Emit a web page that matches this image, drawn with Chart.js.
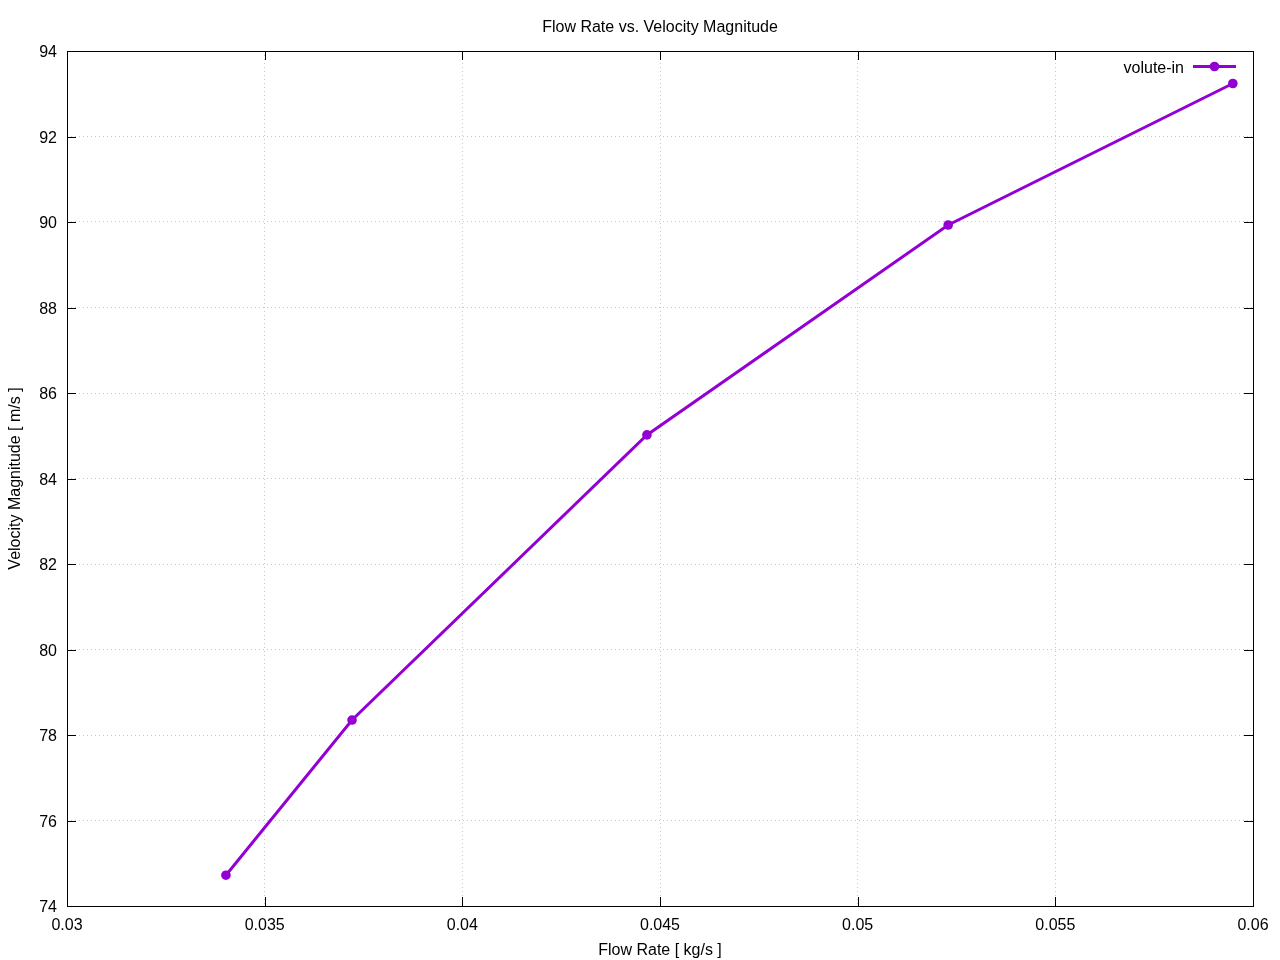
<!DOCTYPE html>
<html>
<head>
<meta charset="utf-8">
<script src="https://cdn.jsdelivr.net/npm/chart.js@4/dist/chart.umd.min.js"></script>
<style>
html,body{margin:0;padding:0;background:#fff;}
#wrap{width:1280px;height:960px;position:relative;}
</style>
</head>
<body>
<div id="wrap"><canvas id="c" width="1280" height="960"></canvas></div>
<script>
const flowRate = [0.03402, 0.03721, 0.04467, 0.05229, 0.05949];
const velocity = [74.72, 78.35, 85.02, 89.93, 93.24];
const seriesName = 'volute-in';
const chartTitle = 'Flow Rate vs. Velocity Magnitude';
const xLabel = 'Flow Rate [ kg/s ]';
const yLabel = 'Velocity Magnitude [ m/s ]';
const xTicks = [0.03, 0.035, 0.04, 0.045, 0.05, 0.055, 0.06];
const yTicks = [74, 76, 78, 80, 82, 84, 86, 88, 90, 92, 94];

const FONT = '"Liberation Sans", Arial, sans-serif';
const COLOR = '#9400d3';

const gnuplotDecor = {
  id: 'gnuplotDecor',
  afterDraw(chart) {
    const ctx = chart.ctx;
    const a = chart.chartArea;
    const xs = chart.scales.x, ys = chart.scales.y;
    ctx.save();
    // frame
    ctx.strokeStyle = '#000';
    ctx.lineWidth = 1;
    ctx.strokeRect(Math.round(a.left) + 0.5, Math.round(a.top) + 0.5, Math.round(a.right - a.left), Math.round(a.bottom - a.top));
    // inward ticks
    const L = 9;
    ctx.beginPath();
    xTicks.forEach(v => {
      const px = Math.round(xs.getPixelForValue(v)) + 0.5;
      ctx.moveTo(px, a.bottom); ctx.lineTo(px, a.bottom - L);
      ctx.moveTo(px, a.top); ctx.lineTo(px, a.top + L);
    });
    yTicks.forEach(v => {
      const py = Math.round(ys.getPixelForValue(v)) + 0.5;
      ctx.moveTo(a.left, py); ctx.lineTo(a.left + L, py);
      ctx.moveTo(a.right, py); ctx.lineTo(a.right - L, py);
    });
    ctx.stroke();
    ctx.fillStyle = '#000';
    ctx.font = '16px ' + FONT;
    ctx.textBaseline = 'middle';
    // y tick labels
    ctx.textAlign = 'right';
    yTicks.forEach(v => {
      ctx.fillText(String(v), a.left - 10, ys.getPixelForValue(v) + 2);
    });
    // title
    ctx.textAlign = 'center';
    ctx.fillText(chartTitle, (a.left + a.right) / 2, 28);
    // legend
    ctx.textAlign = 'right';
    ctx.fillText(seriesName, 1184, 69);
    ctx.strokeStyle = COLOR;
    ctx.lineWidth = 3;
    ctx.beginPath();
    ctx.moveTo(1193, 66.5); ctx.lineTo(1236, 66.5);
    ctx.stroke();
    ctx.fillStyle = COLOR;
    ctx.beginPath();
    ctx.arc(1214.5, 66.5, 4.8, 0, Math.PI * 2);
    ctx.fill();
    ctx.restore();
  }
};

new Chart(document.getElementById('c'), {
  type: 'line',
  data: {
    datasets: [{
      label: seriesName,
      data: flowRate.map((x, i) => ({x: x, y: velocity[i]})),
      borderColor: COLOR,
      backgroundColor: COLOR,
      borderWidth: 3,
      pointRadius: 4.8,
      pointHoverRadius: 4.8,
      pointBorderWidth: 0,
      tension: 0,
      fill: false
    }]
  },
  options: {
    responsive: false,
    animation: false,
    devicePixelRatio: 1,
    layout: {padding: {top: 51, right: 27, left: 0, bottom: 0}},
    plugins: {legend: {display: false}, title: {display: false}, tooltip: {enabled: false}},
    scales: {
      x: {
        type: 'linear',
        min: 0.03, max: 0.06,
        afterBuildTicks: s => { s.ticks = xTicks.map(v => ({value: v})); },
        afterFit: s => { s.height = 54; },
        border: {display: false, dash: [1, 3]},
        grid: {color: '#c8c8c8', lineWidth: 1, drawTicks: false},
        ticks: {
          color: '#000', font: {family: FONT, size: 16}, padding: 10, maxRotation: 0,
          callback: v => String(Number(v.toFixed(3)))
        },
        title: {display: true, text: xLabel, color: '#000', font: {family: FONT, size: 16}, padding: {top: 0, bottom: 0}}
      },
      y: {
        type: 'linear',
        min: 74, max: 94,
        afterBuildTicks: s => { s.ticks = yTicks.map(v => ({value: v})); },
        afterFit: s => { s.width = 67; },
        border: {display: false, dash: [1, 3]},
        grid: {color: '#c8c8c8', lineWidth: 1, drawTicks: false},
        ticks: {display: false},
        title: {display: true, text: yLabel, color: '#000', font: {family: FONT, size: 16}, padding: {top: 6, bottom: 0}}
      }
    }
  },
  plugins: [gnuplotDecor]
});
</script>
</body>
</html>
